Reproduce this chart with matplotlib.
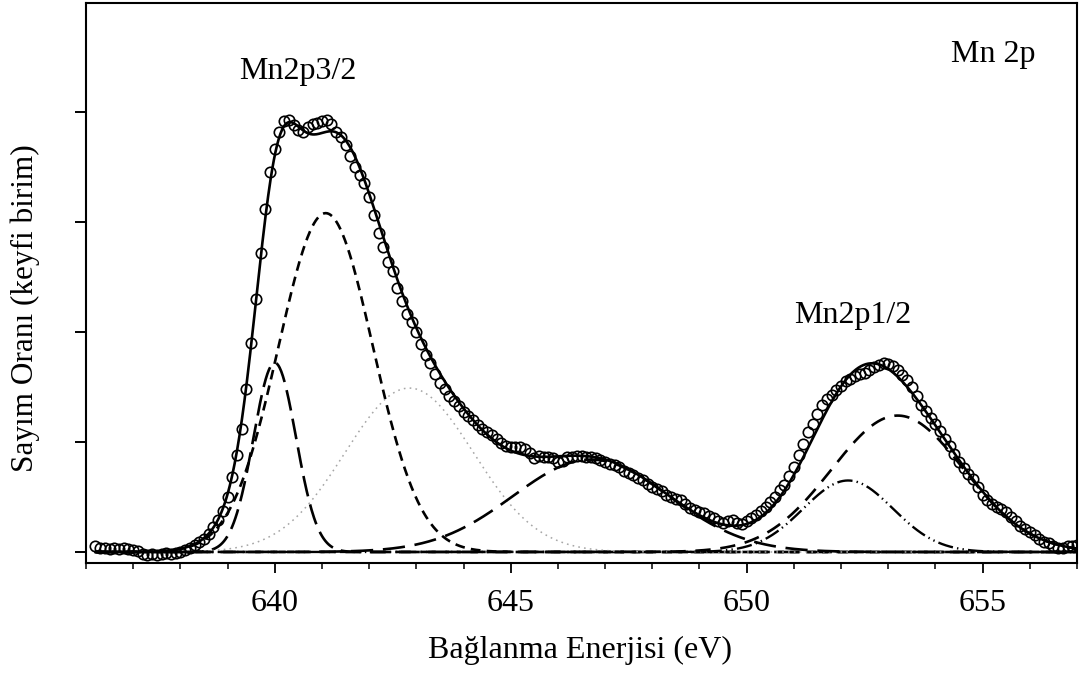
import numpy as np
import matplotlib
matplotlib.use("Agg")
import matplotlib.pyplot as plt

plt.rcParams["font.family"] = ["Liberation Serif", "DejaVu Serif"]
plt.rcParams["lines.scale_dashes"] = False

# Measured Mn 2p spectrum, 0.1 eV steps starting at 636.2 eV
energy_start = 636.2
energy_step = 0.1
counts = [
    0.05, 0.04, 0.04, 0.03, 0.04, 0.03, 0.04, 0.03, 0.02, 0.01,   # 636.2
    -0.02, -0.03, -0.02, -0.03, -0.02, -0.01, -0.02, -0.01, 0.00, 0.02,  # 637.2
    0.04, 0.06, 0.09, 0.12, 0.16, 0.23, 0.29, 0.37, 0.50, 0.68,   # 638.2
    0.88, 1.12, 1.48, 1.90, 2.30, 2.72, 3.12, 3.45, 3.66, 3.82,   # 639.2
    3.92, 3.93, 3.88, 3.84, 3.82, 3.86, 3.89, 3.90, 3.92, 3.93,   # 640.2
    3.89, 3.82, 3.77, 3.70, 3.60, 3.50, 3.43, 3.35, 3.23, 3.06,   # 641.2
    2.90, 2.77, 2.64, 2.55, 2.40, 2.28, 2.16, 2.09, 2.00, 1.89,   # 642.2
    1.79, 1.72, 1.62, 1.54, 1.48, 1.42, 1.37, 1.33, 1.27, 1.24,   # 643.2
    1.20, 1.15, 1.12, 1.09, 1.06, 1.03, 0.99, 0.96, 0.95, 0.95,   # 644.2
    0.95, 0.94, 0.90, 0.85, 0.87, 0.86, 0.86, 0.85, 0.82, 0.83,   # 645.2
    0.86, 0.86, 0.87, 0.87, 0.86, 0.86, 0.85, 0.84, 0.82, 0.80,   # 646.2
    0.79, 0.77, 0.74, 0.72, 0.70, 0.67, 0.65, 0.62, 0.59, 0.57,   # 647.2
    0.55, 0.52, 0.50, 0.48, 0.47, 0.44, 0.40, 0.38, 0.36, 0.35,   # 648.2
    0.33, 0.31, 0.28, 0.26, 0.28, 0.29, 0.26, 0.25, 0.28, 0.31,   # 649.2
    0.34, 0.37, 0.41, 0.45, 0.50, 0.56, 0.61, 0.69, 0.77, 0.88,   # 650.2
    0.98, 1.09, 1.16, 1.25, 1.34, 1.39, 1.43, 1.47, 1.51, 1.55,   # 651.2
    1.57, 1.60, 1.62, 1.63, 1.65, 1.68, 1.70, 1.72, 1.71, 1.69,   # 652.2
    1.65, 1.61, 1.56, 1.50, 1.42, 1.34, 1.28, 1.22, 1.16, 1.10,   # 653.2
    1.03, 0.96, 0.89, 0.82, 0.76, 0.71, 0.66, 0.59, 0.52, 0.47,   # 654.2
    0.44, 0.41, 0.39, 0.36, 0.32, 0.28, 0.24, 0.21, 0.18, 0.15,   # 655.2
    0.12, 0.09, 0.08, 0.05, 0.04, 0.04, 0.05, 0.05, 0.06,         # 656.2
]
energy = np.round(energy_start + energy_step * np.arange(len(counts)), 2)

# Gaussian components of the fit
peak_centers = [640.0, 641.08, 642.85, 646.7, 652.15, 653.2]
peak_heights = [1.72, 3.08, 1.49, 0.84, 0.65, 1.24]
peak_sigmas = [0.45, 1.0, 1.36, 1.65, 0.95, 1.4]

peak_styles = [
    dict(color="black", lw=1.9, dashes=(15, 6)),
    dict(color="black", lw=1.9, dashes=(7, 4.5)),
    dict(color="#a6a6a6", lw=1.1, dashes=(1.2, 3.0)),
    dict(color="black", lw=1.9, dashes=(16, 7)),
    dict(color="black", lw=1.7, dashes=(11, 3, 1, 3, 1, 3)),
    dict(color="black", lw=1.9, dashes=(11, 7)),
]

x_fine = np.linspace(energy[0], energy[-1], 1200)


def gaussian(x, c, h, s):
    return h * np.exp(-0.5 * ((x - c) / s) ** 2)


fig = plt.figure(figsize=(10.83, 6.75), dpi=100)
ax = fig.add_axes([86 / 1083, 1 - 563 / 675, 991 / 1083, 560 / 675])

total = np.zeros_like(x_fine)
for c, h, s, st in zip(peak_centers, peak_heights, peak_sigmas, peak_styles):
    comp = gaussian(x_fine, c, h, s)
    total += comp
    ax.plot(x_fine, comp, **st, zorder=2)

ax.plot(x_fine, total, color="black", lw=1.9, zorder=3)
ax.plot(energy, counts, linestyle="none", marker="o", ms=7.5, mfc="none",
        mec="black", mew=1.2, zorder=4)

ax.set_xlim(636, 657)
ax.set_ylim(-0.1, 4.99)

ax.set_xticks([640, 645, 650, 655])
ax.set_xticks(np.arange(636, 658, 1), minor=True)
ax.set_yticks([0, 1, 2, 3, 4])
ax.set_yticklabels([])
ax.tick_params(axis="x", which="major", direction="out", length=7, width=1.3,
               labelsize=23, pad=12)
ax.tick_params(axis="x", which="minor", direction="out", length=4.5, width=1.1)
ax.tick_params(axis="y", which="major", direction="out", length=8, width=1.4)
for sp in ax.spines.values():
    sp.set_linewidth(1.5)

ax.text(640.49, 4.37, "Mn2p3/2", fontsize=23, ha="center", va="center")
ax.text(652.25, 2.15, "Mn2p1/2", fontsize=23, ha="center", va="center")
ax.text(655.23, 4.52, "Mn 2p", fontsize=23, ha="center", va="center")

fig.text(580 / 1083, 1 - 650 / 675, "Bağlanma Enerjisi (eV)", fontsize=23,
         ha="center", va="center")
fig.text(25 / 1083, 1 - 308 / 675, "Sayım Oranı (keyfi birim)", fontsize=22.5,
         ha="center", va="center", rotation=90)

fig.savefig("out.png", dpi=100)
